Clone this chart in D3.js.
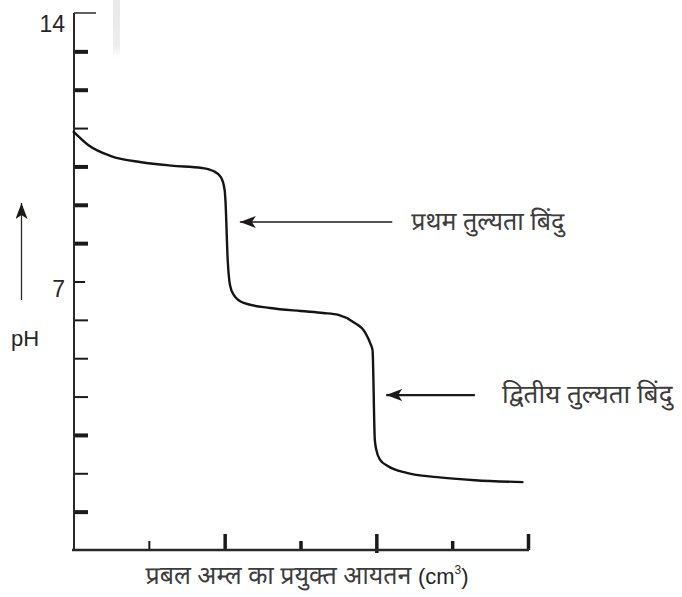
<!DOCTYPE html>
<html>
<head>
<meta charset="utf-8">
<script src="https://cdn.jsdelivr.net/npm/d3@7"></script>
<style>
  html, body { margin: 0; padding: 0; background: #fff; }
  svg { display: block; }
  .latin { font-family: "Liberation Sans", Arial, sans-serif; fill: #262626; }
  .deva { font-family: "Noto Sans Devanagari", "Lohit Devanagari", "Noto Sans", sans-serif; fill: #3c3c3c; }
</style>
</head>
<body>
<svg id="chart" width="682" height="597"></svg>
<script>
// Titration of a dibasic base with strong acid: pH vs volume of acid added
const volume = [0.0, 0.2, 0.5, 0.9, 1.3, 1.7, 1.85, 1.95, 2.0, 2.01, 2.04, 2.07, 2.12, 2.25, 2.6, 3.0, 3.3, 3.5, 3.7, 3.85, 3.93, 3.95, 3.98, 4.0, 4.05, 4.15, 4.4, 4.8, 5.3, 5.94];
const pH     = [10.92, 10.56, 10.27, 10.11, 10.02, 9.96, 9.88, 9.72, 9.38, 9.12, 7.56, 6.91, 6.65, 6.44, 6.31, 6.23, 6.18, 6.13, 5.94, 5.68, 5.34, 5.21, 2.87, 2.61, 2.35, 2.19, 2.01, 1.90, 1.82, 1.77];

const yTickValues = [1, 2, 3, 4, 5, 6, 7, 8, 9, 10, 11, 12, 13];
const yNumberValues = [14, 7];
const yNumberLabels = ["14", "7"];
const xTickValues = [1, 2, 3, 4, 5, 6];

const xAxisTitle = "प्रबल अम्ल का प्रयुक्त आयतन";
const xAxisUnit = ["(cm", "3", ")"];
const yAxisTitle = "pH";

// Annotated equivalence points (arrow tip and tail in data units)
const annotationText = ["प्रथम तुल्यता बिंदु", "द्वितीय तुल्यता बिंदु"];
const annotationVol  = [2.2, 4.13];
const annotationPH   = [8.55, 4.04];
const annotationTail = [4.21, 5.3];

const svg = d3.select("#chart");
const defs = svg.append("defs");
const x = d3.scaleLinear().domain([0, 6]).range([73, 528]);
const y = d3.scaleLinear().domain([0, 14]).range([550, 13]);

// faint scanner streak near the top
const grad = defs.append("linearGradient")
  .attr("id", "streak").attr("x1", 0).attr("x2", 0).attr("y1", 0).attr("y2", 1);
grad.append("stop").attr("offset", "0%").attr("stop-color", "#e8e8e8");
grad.append("stop").attr("offset", "80%").attr("stop-color", "#eeeeee");
grad.append("stop").attr("offset", "100%").attr("stop-color", "#fff");
svg.append("rect").attr("x", 113).attr("y", 0).attr("width", 7).attr("height", 58)
  .attr("fill", "url(#streak)");

// arrowhead
defs.append("marker").attr("id", "headL").attr("viewBox", "0 0 16 12")
  .attr("refX", 16).attr("refY", 6).attr("markerWidth", 16).attr("markerHeight", 12)
  .attr("markerUnits", "userSpaceOnUse").attr("orient", "auto")
  .append("path").attr("d", "M0,0 L16,6 L0,12 L4,6 Z").attr("fill", "#1c1a18");

// y axis with ticks pointing inward
const boldY = new Set([13, 12, 10, 9, 8, 3, 1]);
const yAxis = svg.append("g").attr("transform", `translate(${x(0) + 1},0)`)
  .call(d3.axisLeft(y).tickValues(yTickValues).tickSize(-14).tickFormat(""));
yAxis.select(".domain").remove();
yAxis.selectAll(".tick line")
  .attr("stroke", "#1c1a18")
  .attr("stroke-width", d => boldY.has(d) ? 4 : 2)
  .attr("x2", d => d === 7 ? 11 : 14);

svg.append("line").attr("x1", x(0) + 1).attr("x2", x(0) + 1)
  .attr("y1", y(14)).attr("y2", y(0) + 1)
  .attr("stroke", "#2a2826").attr("stroke-width", 2);
svg.append("line").attr("x1", x(0) + 1).attr("x2", x(0) + 23)
  .attr("y1", y(14)).attr("y2", y(14))
  .attr("stroke", "#2a2826").attr("stroke-width", 1.5);

// x axis with ticks pointing upward
const tallX = new Set([2, 4, 6]);
const xAxis = svg.append("g").attr("transform", `translate(0,${y(0)})`)
  .call(d3.axisBottom(x).tickValues(xTickValues).tickSize(-9).tickFormat(""));
xAxis.select(".domain").remove();
xAxis.selectAll(".tick line")
  .attr("stroke", "#1c1a18")
  .attr("stroke-width", d => d === 1 ? 2 : 3.5)
  .attr("y1", d => d === 4 ? 3 : 0)
  .attr("y2", d => tallX.has(d) ? -16 : -9);
svg.append("line").attr("x1", x(0) - 1).attr("x2", x(6) + 1)
  .attr("y1", y(0)).attr("y2", y(0))
  .attr("stroke", "#2a2826").attr("stroke-width", 2.5);

// axis numbers
svg.selectAll(".ylab").data(yNumberValues).join("text")
  .attr("class", "latin")
  .attr("x", x(0) - 8).attr("y", d => y(d) + (d === 14 ? 19 : 15))
  .attr("text-anchor", "end").attr("font-size", 23)
  .text((d, i) => yNumberLabels[i]);

// pH label with upward arrow
svg.append("text").attr("class", "latin")
  .attr("x", 11).attr("y", 346).attr("font-size", 22).text(yAxisTitle);
svg.append("line").attr("x1", 21.5).attr("x2", 21.5).attr("y1", 300).attr("y2", 203)
  .attr("stroke", "#2a2826").attr("stroke-width", 1.3)
  .attr("marker-end", "url(#headL)");

// x axis title: Devanagari words followed by the unit (cm³)
const xt = svg.append("text").attr("y", 584).attr("text-anchor", "middle").attr("x", 307);
xt.append("tspan").attr("class", "deva").attr("font-size", 25).text(xAxisTitle + " ");
xt.append("tspan").attr("class", "latin").attr("font-size", 22).text(xAxisUnit[0]);
xt.append("tspan").attr("class", "latin").attr("font-size", 12).attr("dy", -10).text(xAxisUnit[1]);
xt.append("tspan").attr("class", "latin").attr("font-size", 22).attr("dy", 10).text(xAxisUnit[2]);

// titration curve
const pts = volume.map((v, i) => [v, pH[i]]);
svg.append("path").datum(pts)
  .attr("fill", "none").attr("stroke", "#161412").attr("stroke-width", 2.4)
  .attr("stroke-linejoin", "round")
  .attr("d", d3.line().x(d => x(d[0])).y(d => y(d[1])).curve(d3.curveMonotoneX));

// equivalence point annotations
annotationText.forEach((t, i) => {
  svg.append("line")
    .attr("x1", x(annotationTail[i])).attr("x2", x(annotationVol[i]))
    .attr("y1", y(annotationPH[i])).attr("y2", y(annotationPH[i]))
    .attr("stroke", "#1c1a18").attr("stroke-width", i === 0 ? 1.6 : 2.2)
    .attr("marker-end", "url(#headL)");
  svg.append("text").attr("class", "deva")
    .attr("x", x(annotationTail[i]) + (i === 0 ? 19 : 27))
    .attr("y", y(annotationPH[i]) + 8)
    .attr("font-size", i === 0 ? 25 : 26).text(t);
});
</script>
</body>
</html>
